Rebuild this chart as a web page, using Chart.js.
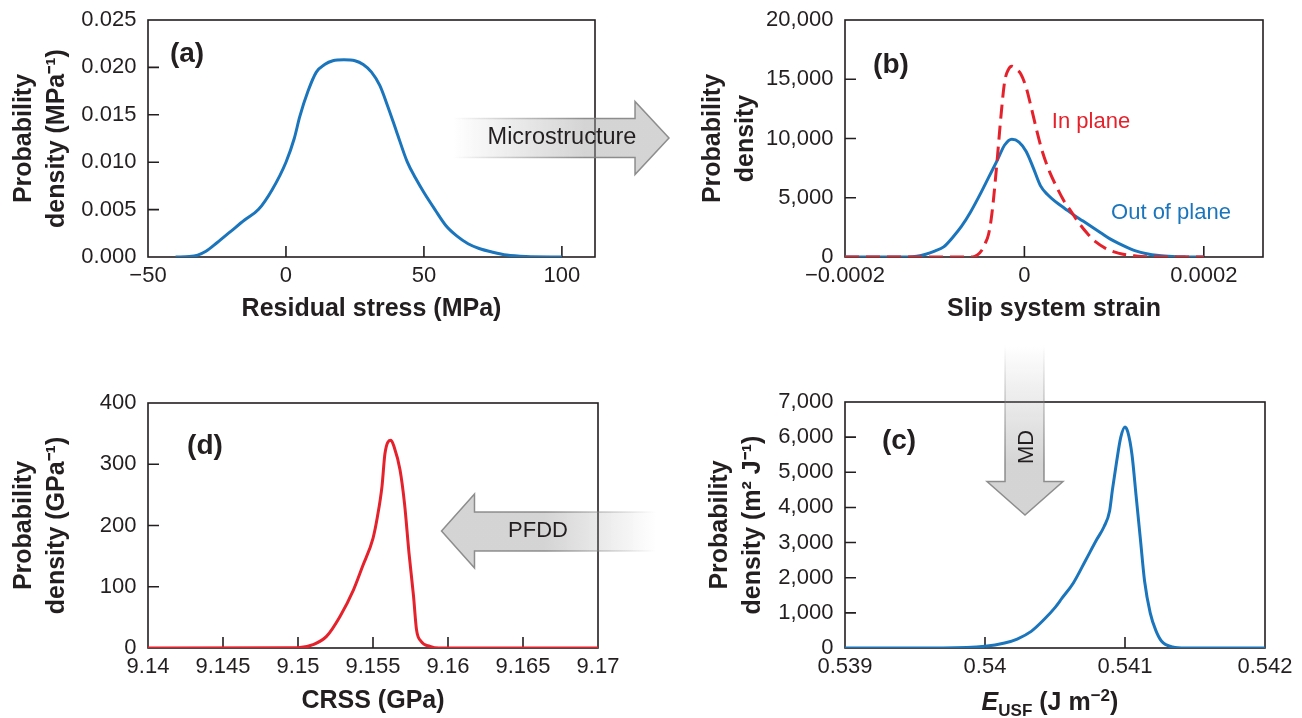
<!DOCTYPE html>
<html>
<head>
<meta charset="utf-8">
<title>Probability density chain</title>
<script src="https://cdn.jsdelivr.net/npm/chart.js@4.4.1/dist/chart.umd.min.js"></script>
<style>
  body { margin: 0; width: 1302px; height: 718px; overflow: hidden; background: #fff;
         font-family: 'Liberation Sans', Arial, sans-serif; color: #231f20; position: relative; }
  canvas { position: absolute; }
  #arrows { left: 0; top: 0; z-index: 5; pointer-events: none; }
  .lbl { position: absolute; transform: translate(-50%, -50%); white-space: nowrap; line-height: 1; z-index: 6; }
  .panel { font-weight: bold; font-size: 28px; }
  .note { font-size: 22px; }
  .sub { font-size: 17px; position: relative; top: 6px; }
  .sup { font-size: 17px; position: relative; top: -9px; }
</style>
</head>
<body>
<canvas id="chartA" width="640" height="326" style="left:0;top:0"></canvas>
<canvas id="chartB" width="613" height="326" style="left:689px;top:0"></canvas>
<canvas id="chartC" width="606" height="348" style="left:696px;top:370px"></canvas>
<canvas id="chartD" width="640" height="348" style="left:0;top:370px"></canvas>
<canvas id="arrows" width="1302" height="718"></canvas>

<div class="lbl panel" style="left:187px;top:53px">(a)</div>
<div class="lbl panel" style="left:891px;top:64px">(b)</div>
<div class="lbl panel" style="left:899px;top:440px">(c)</div>
<div class="lbl panel" style="left:205px;top:445px">(d)</div>

<div class="lbl note" style="left:1091px;top:121px;color:#e5212b">In plane</div>
<div class="lbl note" style="left:1171px;top:212px;color:#1b75bc">Out of plane</div>

<div class="lbl note" style="left:562px;top:137px;font-size:23.5px">Microstructure</div>
<div class="lbl note" style="left:1026px;top:447px;transform:translate(-50%,-50%) rotate(-90deg)">MD</div>
<div class="lbl note" style="left:538px;top:530px">PFDD</div>

<div class="lbl" style="left:1050px;top:701px;font-weight:bold;font-size:25px"><i>E</i><span class="sub">USF</span> (J m<span class="sup">&minus;2</span>)</div>

<script>
const INK = '#231f20';
const BLUE = '#1b75bc';
const RED = '#e5212b';

// (a) residual stress
const stressX = [-40, -35, -32, -29, -25, -20, -15, -10, -5, 0, 3, 5, 8, 11, 14, 17, 21, 25, 28, 31,
                 34, 37, 40, 44, 47, 50, 54, 58, 62, 66, 70, 75, 80, 87, 100];
const stressY = [0, 0.00005, 0.0002, 0.0006, 0.0015, 0.0027, 0.0039, 0.0050, 0.0071, 0.0100,
                 0.0125, 0.0148, 0.0175, 0.0195, 0.0203, 0.0207, 0.0208, 0.0207, 0.0203, 0.0195,
                 0.0181, 0.0158, 0.0133, 0.0100, 0.0083, 0.0068, 0.0050, 0.0033, 0.0022, 0.0014,
                 0.0009, 0.0005, 0.0002, 0.00005, 0];
const stressXTicks = [-50, 0, 50, 100];
const stressXLabels = ['\u221250', '0', '50', '100'];
const stressYTicks = [0, 0.005, 0.01, 0.015, 0.02, 0.025];
const stressYLabels = ['0.000', '0.005', '0.010', '0.015', '0.020', '0.025'];

// (b) slip system strain
const inPlaneX = [-0.0002, -0.000058, -0.000052, -0.0000475, -0.000044, -0.00004, -0.000037, -0.000034,
                  -0.00003, -0.000026, -0.000022, -0.000018, -0.000014, -0.000009, -0.000004, 0.000002,
                  0.000008, 0.000014, 0.00002, 0.000028, 0.000036, 0.000044, 0.000052, 0.00006,
                  0.00007, 0.00008, 0.00009, 0.0001, 0.00011, 0.00012, 0.00013, 0.0002];
const inPlaneY = [0, 0, 200, 565, 1100, 1900, 3200, 5200, 8500, 12000,
                  14800, 15800, 16100, 15850, 15450, 14300, 12500, 10600, 8900, 7200,
                  5900, 4750, 3850, 2950, 2000, 1250, 750, 430, 230, 120, 40, 0];
const outPlaneX = [-0.0002, -0.00013, -0.00012, -0.00011, -0.0001, -0.00009, -0.00008, -0.00007,
                   -0.00006, -0.00005, -0.00004, -0.00003, -0.000022, -0.000014, -0.000006, 0.000002,
                   0.00001, 0.000018, 0.000026, 0.000035, 0.000045, 0.000055, 0.000065, 0.000075,
                   0.000085, 0.000095, 0.000105, 0.000115, 0.000125, 0.000135, 0.00015, 0.000165,
                   0.00018, 0.0002];
const outPlaneY = [0, 0, 60, 230, 500, 850, 1650, 2600, 3800, 5200,
                   6700, 8200, 9450, 9940, 9700, 8900, 7500, 6000, 5250, 4650,
                   4100, 3550, 3050, 2550, 2050, 1550, 1150, 800, 500, 300,
                   120, 40, 10, 0];
const strainXTicks = [-0.0002, 0, 0.0002];
const strainXLabels = ['\u22120.0002', '0', '0.0002'];
const strainYTicks = [0, 5000, 10000, 15000, 20000];
const strainYLabels = ['0', '5,000', '10,000', '15,000', '20,000'];

// (c) unstable stacking fault energy
const eusfX = [0.539, 0.5397, 0.54, 0.54014, 0.54023, 0.54033, 0.54042, 0.5405, 0.54055, 0.54063,
               0.54072, 0.5408, 0.54085, 0.54089, 0.54091, 0.54094, 0.54097, 0.541, 0.54102, 0.54105,
               0.54108, 0.54111, 0.54114, 0.54118, 0.54122, 0.54126, 0.54134, 0.54143, 0.542];
const eusfY = [0, 0, 47, 142, 255, 473, 803, 1150, 1418, 1843,
               2505, 3100, 3450, 3900, 4500, 5300, 6000, 6290, 6150, 5500,
               4300, 3100, 1900, 1000, 500, 200, 30, 0, 0];
const eusfXTicks = [0.539, 0.54, 0.541, 0.542];
const eusfXLabels = ['0.539', '0.54', '0.541', '0.542'];
const eusfYTicks = [0, 1000, 2000, 3000, 4000, 5000, 6000, 7000];
const eusfYLabels = ['0', '1,000', '2,000', '3,000', '4,000', '5,000', '6,000', '7,000'];

// (d) CRSS
const crssX = [9.14, 9.15, 9.151, 9.1519, 9.1528, 9.1537, 9.1543, 9.155, 9.1553, 9.1556,
               9.1558, 9.1562, 9.1564, 9.1568, 9.1571, 9.1574, 9.1577, 9.1579, 9.1582, 9.1588,
               9.1594, 9.17];
const crssY = [0, 0.5, 5.4, 19, 51.6, 95, 133, 179, 215, 264,
               318, 339, 329, 291, 236, 155, 85, 30, 11, 2.7, 0, 0];
const crssXTicks = [9.14, 9.145, 9.15, 9.155, 9.16, 9.165, 9.17];
const crssXLabels = ['9.14', '9.145', '9.15', '9.155', '9.16', '9.165', '9.17'];
const crssYTicks = [0, 100, 200, 300, 400];
const crssYLabels = ['0', '100', '200', '300', '400'];

Chart.defaults.font.family = "'Liberation Sans', Arial, sans-serif";
Chart.defaults.color = INK;

function pts(xs, ys) {
  return xs.map((x, i) => ({ x: x, y: ys[i] }));
}

// box around the plot and short ticks pointing inwards
const frameTicks = {
  id: 'frameTicks',
  beforeDatasetsDraw(chart) {
    const { ctx, chartArea: a, scales: { x, y } } = chart;
    ctx.save();
    ctx.strokeStyle = INK;
    ctx.lineWidth = 1.6;
    ctx.beginPath();
    x.ticks.forEach(t => {
      if (t.value <= x.min || t.value >= x.max) return;
      const px = x.getPixelForValue(t.value);
      ctx.moveTo(px, a.bottom);
      ctx.lineTo(px, a.bottom - 11);
    });
    y.ticks.forEach(t => {
      if (t.value <= y.min || t.value >= y.max) return;
      const py = y.getPixelForValue(t.value);
      ctx.moveTo(a.left, py);
      ctx.lineTo(a.left + 11, py);
    });
    ctx.stroke();
    ctx.strokeRect(a.left, a.top, a.width, a.height);
    ctx.restore();
  }
};

function panel(id, o) {
  return new Chart(document.getElementById(id), {
    type: 'line',
    data: { datasets: o.datasets },
    options: {
      responsive: false,
      animation: false,
      events: [],
      layout: { padding: { left: 0, top: o.padTop, right: o.padRight, bottom: 0 } },
      elements: {
        point: { radius: 0 },
        line: { borderWidth: 3, cubicInterpolationMode: 'monotone' }
      },
      plugins: { legend: { display: false }, tooltip: { enabled: false } },
      scales: {
        x: {
          type: 'linear',
          min: o.xTicks[0],
          max: o.xMax,
          afterBuildTicks: s => { s.ticks = o.xTicks.map(v => ({ value: v })); },
          afterFit: s => { s.height = o.xHeight; },
          grid: { drawOnChartArea: false, tickLength: 6, tickColor: 'rgba(0,0,0,0)' },
          border: { display: false },
          ticks: { padding: 0, maxRotation: 0, autoSkip: false, font: { size: 22 },
                   callback: (v, i) => o.xLabels[i] },
          title: { display: !!o.xTitle, text: o.xTitle, padding: 0, color: INK,
                   font: { size: 25, weight: 'bold', lineHeight: 1.34 } }
        },
        y: {
          min: 0,
          max: o.yTicks[o.yTicks.length - 1],
          afterBuildTicks: s => { s.ticks = o.yTicks.map(v => ({ value: v })); },
          afterFit: s => { s.width = o.yWidth; },
          grid: { drawOnChartArea: false, tickLength: 11, tickColor: 'rgba(0,0,0,0)' },
          border: { display: false },
          ticks: { padding: 0.6, autoSkip: false, font: { size: 22 },
                   callback: (v, i) => o.yLabels[i] },
          title: { display: true, text: o.yTitle, padding: { top: 7, bottom: 0 }, color: INK,
                   font: { size: 25, weight: 'bold', lineHeight: 1.34 } }
        }
      }
    },
    plugins: [frameTicks]
  });
}

panel('chartA', {
  datasets: [{ data: pts(stressX, stressY), borderColor: BLUE }],
  xTicks: stressXTicks, xLabels: stressXLabels, xMax: 112,
  yTicks: stressYTicks, yLabels: stressYLabels,
  xTitle: 'Residual stress (MPa)',
  yTitle: ['Probability', 'density (MPa\u207B\u00B9)'],
  padTop: 20, padRight: 45, yWidth: 148, xHeight: 69
});

panel('chartB', {
  datasets: [
    { data: pts(inPlaneX, inPlaneY), borderColor: RED, borderDash: [14, 7], order: 0 },
    { data: pts(outPlaneX, outPlaneY), borderColor: BLUE, order: 1 }
  ],
  xTicks: strainXTicks, xLabels: strainXLabels, xMax: 0.000266,
  yTicks: strainYTicks, yLabels: strainYLabels,
  xTitle: 'Slip system strain',
  yTitle: ['Probability', 'density'],
  padTop: 20, padRight: 39, yWidth: 156, xHeight: 69
});

panel('chartC', {
  datasets: [{ data: pts(eusfX, eusfY), borderColor: BLUE }],
  xTicks: eusfXTicks, xLabels: eusfXLabels, xMax: 0.542,
  yTicks: eusfYTicks, yLabels: eusfYLabels,
  xTitle: '',
  yTitle: ['Probability', 'density (m\u00B2 J\u207B\u00B9)'],
  padTop: 32, padRight: 37, yWidth: 149, xHeight: 70
});

panel('chartD', {
  datasets: [{ data: pts(crssX, crssY), borderColor: RED }],
  xTicks: crssXTicks, xLabels: crssXLabels, xMax: 9.17,
  yTicks: crssYTicks, yLabels: crssYLabels,
  xTitle: 'CRSS (GPa)',
  yTitle: ['Probability', 'density (GPa\u207B\u00B9)'],
  padTop: 33, padRight: 42, yWidth: 148, xHeight: 70
});

// grey block arrows between the panels
const actx = document.getElementById('arrows').getContext('2d');

function drawArrow(poly, from, to) {
  const fill = actx.createLinearGradient(from[0], from[1], to[0], to[1]);
  fill.addColorStop(0, 'rgba(160,160,160,0)');
  fill.addColorStop(1, 'rgba(160,160,160,0.45)');
  const edge = actx.createLinearGradient(from[0], from[1], to[0], to[1]);
  edge.addColorStop(0, 'rgba(125,125,125,0)');
  edge.addColorStop(1, 'rgba(125,125,125,0.85)');
  actx.beginPath();
  poly.forEach((p, i) => (i ? actx.lineTo(p[0], p[1]) : actx.moveTo(p[0], p[1])));
  actx.fillStyle = fill;
  actx.fill();
  actx.strokeStyle = edge;
  actx.lineWidth = 1.5;
  actx.stroke();
}

drawArrow([[453, 118.5], [635, 118.5], [635, 101.5], [669, 138], [635, 174.5], [635, 157.5], [453, 157.5]],
          [453, 0], [585, 0]);
drawArrow([[1005, 345], [1005, 481.5], [987, 481.5], [1025, 515], [1063, 481.5], [1044, 481.5], [1044, 345]],
          [0, 345], [0, 465]);
drawArrow([[655, 512], [474.5, 512], [474.5, 494], [441.5, 531], [474.5, 568], [474.5, 551], [655, 551]],
          [655, 0], [545, 0]);
</script>
</body>
</html>
